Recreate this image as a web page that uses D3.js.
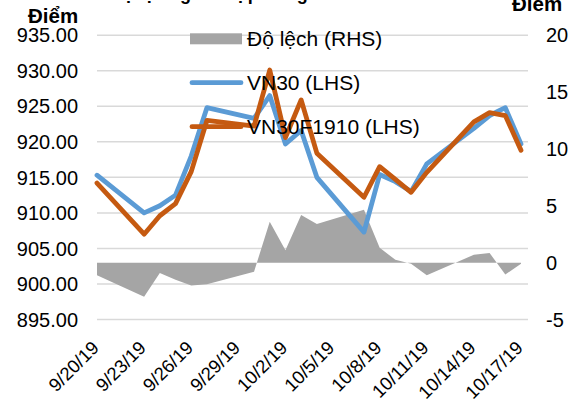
<!DOCTYPE html>
<html>
<head>
<meta charset="utf-8">
<script src="https://cdn.jsdelivr.net/npm/d3@7"></script>
<style>
  html, body { margin: 0; padding: 0; background: #fff; }
  svg { display: block; font-family: "Liberation Sans", Arial, sans-serif; }
</style>
</head>
<body>
<svg id="chart" width="579" height="401"></svg>
<script>
// ---- data ----
const dates = ["2019-09-20","2019-09-23","2019-09-24","2019-09-25","2019-09-26","2019-09-27",
  "2019-09-30","2019-10-01","2019-10-02","2019-10-03","2019-10-04","2019-10-07","2019-10-08",
  "2019-10-09","2019-10-10","2019-10-11","2019-10-14","2019-10-15","2019-10-16","2019-10-17"];
const vn30 = [915.3, 910.0, 911.0, 912.5, 918.0, 924.8, 923.3, 926.5, 919.7, 921.6,
  915.0, 907.3, 915.4, 914.4, 913.0, 916.9, 921.9, 923.7, 924.8, 919.7];
const vn30f = [914.2, 907.0, 909.6, 911.3, 915.8, 923.0, 922.2, 930.1, 920.6, 925.9,
  918.4, 912.2, 916.5, 914.7, 912.9, 915.7, 922.8, 924.1, 923.7, 918.8];
const doLech = [-1.1, -3.0, -0.9, -1.5, -2.0, -1.9, -0.8, 3.6, 1.1, 4.2,
  3.4, 4.65, 1.3, 0.25, -0.1, -1.1, 0.7, 0.85, -1.05, -0.1];
const leftTicks = [895, 900, 905, 910, 915, 920, 925, 930, 935];
const rightTicks = [-5, 0, 5, 10, 15, 20];
const xTickDates = ["2019-09-20","2019-09-23","2019-09-26","2019-09-29","2019-10-02",
  "2019-10-05","2019-10-08","2019-10-11","2019-10-14","2019-10-17"];
const seriesNames = ["Độ lệch (RHS)", "VN30 (LHS)", "VN30F1910 (LHS)"];
const axisTitleLeft = "Điểm", axisTitleRight = "Điểm";
const chartTitle = "Độ lệch giữa hợp đồng VN30F1910 và VN30";

// ---- setup ----
const parse = d3.timeParse("%Y-%m-%d");
const pts = dates.map((d, i) => ({ date: parse(d), a: vn30[i], b: vn30f[i], c: doLech[i] }));
const svg = d3.select("#chart");
const FONT = 20;
const colBlue = "#5B9BD5", colOrange = "#C55A11", colGray = "#A5A5A5";

const x = d3.scaleTime().domain([parse("2019-09-20"), parse("2019-10-17")]).range([97, 521]);
const yL = d3.scaleLinear().domain([895, 935]).range([319.5, 35.2]);
const yR = d3.scaleLinear().domain([-5, 20]).range([319.5, 35.2]);
const plotLeft = 97, plotRight = 528;

// clipped chart title (only its lowest pixels show, as in the reference)
svg.append("text").attr("x", 110).attr("y", -0.5).attr("font-size", 18).attr("font-weight", "bold")
  .attr("fill", "#000").text(chartTitle);

// gridlines
svg.append("g").selectAll("line").data(leftTicks).join("line")
  .attr("x1", plotLeft).attr("x2", plotRight)
  .attr("y1", d => yL(d)).attr("y2", d => yL(d))
  .attr("stroke", "#d9d9d9").attr("stroke-width", 1.5);

// left axis labels
svg.append("g").selectAll("text").data(leftTicks).join("text")
  .attr("x", 78).attr("y", d => yL(d)).attr("dy", "0.36em")
  .attr("text-anchor", "end").attr("font-size", FONT).attr("fill", "#000")
  .text(d => d3.format(".2f")(d));

// right axis labels
svg.append("g").selectAll("text").data(rightTicks).join("text")
  .attr("x", 546).attr("y", d => yR(d)).attr("dy", "0.36em")
  .attr("text-anchor", "start").attr("font-size", FONT).attr("fill", "#000")
  .text(d => d3.format("d")(d).replace("−", "-"));

// x labels
const fmt = d3.timeFormat("%-m/%-d/%y");
svg.append("g").selectAll("text").data(xTickDates.map(parse)).join("text")
  .attr("transform", d => `translate(${x(d) + 3},349) rotate(-45)`)
  .attr("text-anchor", "end").attr("font-size", 18.5).attr("fill", "#000")
  .text(d => fmt(d));

// area
svg.append("path").datum(pts)
  .attr("d", d3.area().x(d => x(d.date)).y0(yR(0)).y1(d => yR(d.c)))
  .attr("fill", colGray);

// lines
const lineA = d3.line().x(d => x(d.date)).y(d => yL(d.a));
const lineB = d3.line().x(d => x(d.date)).y(d => yL(d.b));
svg.append("path").datum(pts).attr("d", lineA).attr("fill", "none")
  .attr("stroke", colBlue).attr("stroke-width", 4.8).attr("stroke-linejoin", "round").attr("stroke-linecap", "round");
svg.append("path").datum(pts).attr("d", lineB).attr("fill", "none")
  .attr("stroke", colOrange).attr("stroke-width", 4.8).attr("stroke-linejoin", "round").attr("stroke-linecap", "round");

// legend
const lg = svg.append("g");
lg.append("rect").attr("x", 190).attr("y", 33.3).attr("width", 52).attr("height", 11).attr("fill", colGray);
lg.append("line").attr("x1", 192).attr("x2", 241).attr("y1", 82.7).attr("y2", 82.7)
  .attr("stroke", colBlue).attr("stroke-width", 4.8).attr("stroke-linecap", "round");
lg.append("line").attr("x1", 192).attr("x2", 241).attr("y1", 126.7).attr("y2", 126.7)
  .attr("stroke", colOrange).attr("stroke-width", 4.8).attr("stroke-linecap", "round");
lg.selectAll("text").data(seriesNames).join("text")
  .attr("x", 247).attr("y", (d, i) => [46, 90, 133.5][i])
  .attr("font-size", 21).attr("fill", "#000").text(d => d);

// axis titles
svg.append("text").attr("x", 28).attr("y", 23.4).attr("font-size", 20.5).attr("font-weight", "bold")
  .attr("fill", "#000").text(axisTitleLeft);
svg.append("text").attr("x", 512).attr("y", 11).attr("font-size", 20.5).attr("font-weight", "bold")
  .attr("fill", "#000").text(axisTitleRight);
</script>
</body>
</html>
